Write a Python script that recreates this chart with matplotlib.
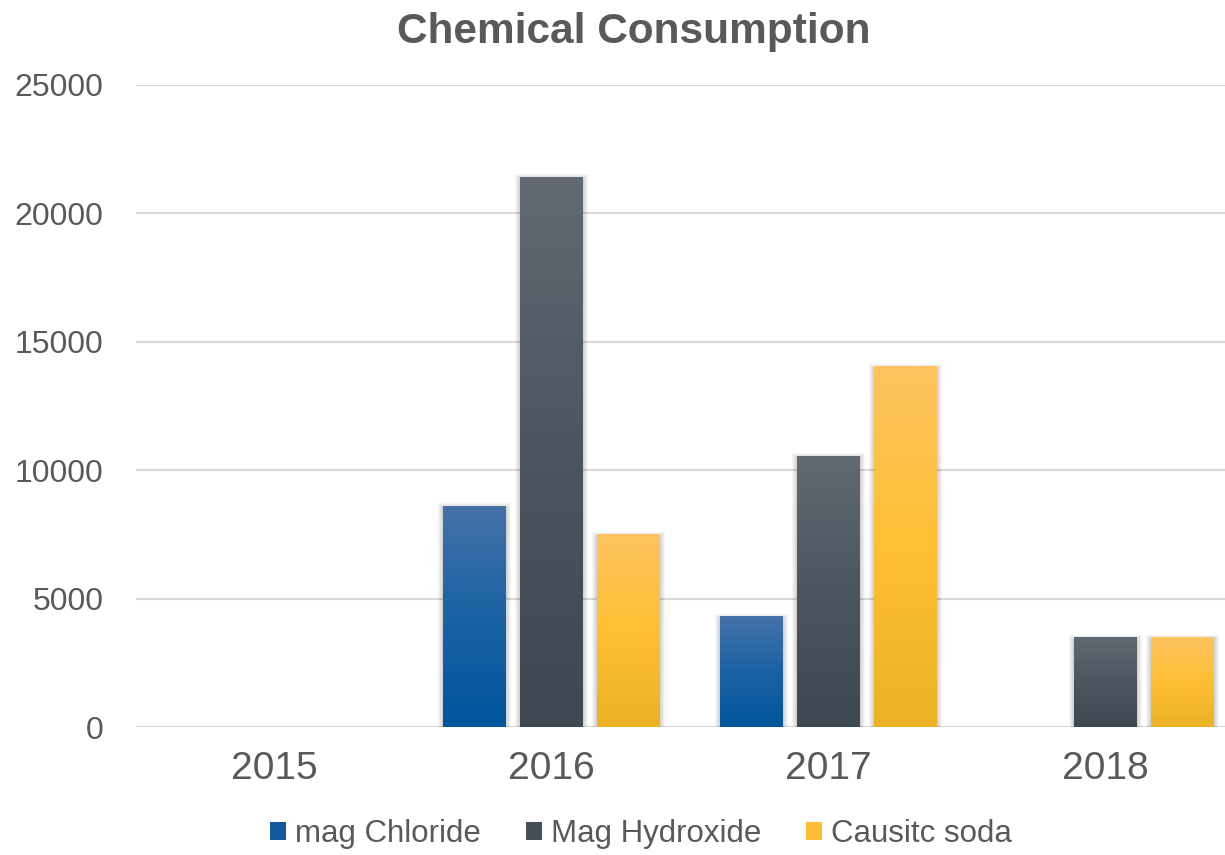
import numpy as np
import matplotlib.pyplot as plt
from matplotlib.patches import Patch, Rectangle
from matplotlib.colors import LinearSegmentedColormap

plt.rcParams['font.family'] = ['Liberation Sans', 'DejaVu Sans']

years = ['2015', '2016', '2017', '2018']
series = ['mag Chloride', 'Mag Hydroxide', 'Causitc soda']
mag_chloride = [0, 8600, 4300, 0]
mag_hydroxide = [0, 21400, 10550, 3470]
caustic_soda = [0, 7480, 14030, 3470]

# gradient stops, bottom -> top
gradients = [
    ['#00559b', '#1a62a3', '#4572a7'],
    ['#3e4852', '#4b5560', '#626972'],
    ['#ebb226', '#fec032', '#fdc45f'],
]
legend_colors = ['#16589d', '#464e58', '#fdbe34']
text_color = '#595959'

W, H = 1225, 855
fig = plt.figure(figsize=(W / 100, H / 100), dpi=100)
fig.patch.set_facecolor('white')
ax = fig.add_axes([135.5 / W, 128 / H, 1108 / W, 642 / H])

x = np.arange(len(years))
width = 0.227
step = 0.278
ymax = 25000

# size of one pixel in data units (for the soft shadow)
px_x = 4.0 / 1108
px_y = ymax / 642

values = [mag_chloride, mag_hydroxide, caustic_soda]
for i, (vals, stops) in enumerate(zip(values, gradients)):
    bars = ax.bar(x + (i - 1) * step, vals, width, color=stops[1],
                  linewidth=0, zorder=3)
    cmap = LinearSegmentedColormap.from_list('grad%d' % i, stops)
    grad = np.linspace(0, 1, 256).reshape(-1, 1)
    for b in bars:
        h = b.get_height()
        if h <= 0:
            continue
        x0, w = b.get_x(), b.get_width()
        # fake blurred drop shadow
        for k in range(1, 7):
            ax.add_patch(Rectangle((x0 - k * px_x + px_x, -3 * px_y),
                                   w + 2 * k * px_x - px_x, h + k * px_y,
                                   facecolor='black', alpha=0.035,
                                   linewidth=0, zorder=2))
        ax.imshow(grad, cmap=cmap, origin='lower', aspect='auto',
                  extent=[x0, x0 + w, 0, h], zorder=4)

ax.set_xlim(-0.5, len(years) - 0.5)
ax.set_ylim(0, ymax)
ax.set_xticks(x)
ax.set_xticklabels(years)
ax.set_yticks(np.arange(0, ymax + 1, 5000))
ax.yaxis.grid(True, color='#d9d9d9', linewidth=1.5)
ax.set_axisbelow(True)
for s in ax.spines.values():
    s.set_visible(False)
ax.tick_params(axis='both', length=0, colors=text_color)
ax.tick_params(axis='y', labelsize=23, pad=23)
ax.tick_params(axis='x', labelsize=28, pad=17)

fig.text(634 / W, 812 / H, 'Chemical Consumption', ha='center', va='baseline',
         fontsize=30.5, fontweight='bold', color=text_color)

handles = [Patch(facecolor=c, edgecolor='none') for c in legend_colors]
fig.legend(handles, series, loc='center', bbox_to_anchor=(641 / W, 21 / H),
           ncol=3, frameon=False, fontsize=22.5, handlelength=0.51,
           handleheight=0.51, handletextpad=0.29, columnspacing=1.45,
           labelcolor=text_color)

fig.savefig('out.png', dpi=100, facecolor='white')
